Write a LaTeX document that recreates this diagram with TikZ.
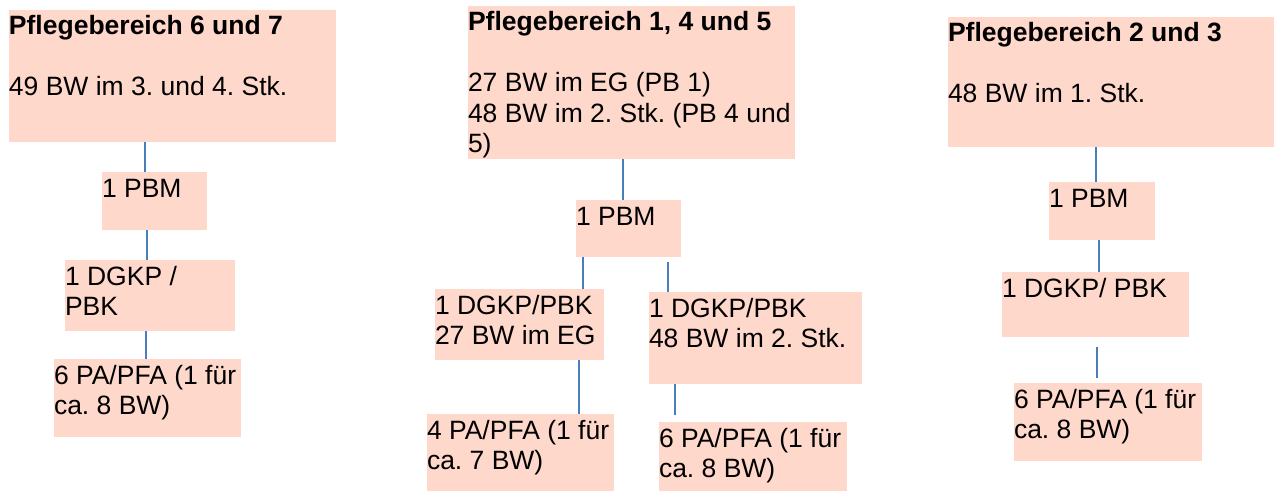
\documentclass[tikz,border=0pt]{standalone}
\usepackage{fontspec}
\setmainfont{Liberation Sans}
\frenchspacing
\definecolor{boxfill}{RGB}{255,216,204}
\definecolor{connblue}{RGB}{74,126,187}
\begin{document}
\begin{tikzpicture}[x=1pt,y=-1pt,
  box/.style={fill=boxfill, draw=none, inner sep=0pt, outer sep=0pt, anchor=north west},
  txt/.style={anchor=north west, inner sep=0pt, outer sep=0pt, align=left,
    font=\fontsize{26.5}{30.5}\selectfont\frenchspacing},
  conn/.style={draw=connblue, line width=1.1pt}]
\useasboundingbox (0,0) rectangle (1274,492);

% column A
\node[box, minimum width=327pt, minimum height=132pt] (A1) at (9,10) {};
\node[box, minimum width=105pt, minimum height=58pt]  (A2) at (102,172) {};
\node[box, minimum width=170pt, minimum height=71pt]  (A3) at (65,260) {};
\node[box, minimum width=187pt, minimum height=78pt]  (A4) at (54,359) {};
% column B
\node[box, minimum width=327pt, minimum height=153pt] (B1) at (468,6) {};
\node[box, minimum width=105pt, minimum height=57pt]  (B2) at (576,200) {};
\node[box, minimum width=169pt, minimum height=71pt]  (B3) at (435,289) {};
\node[box, minimum width=213pt, minimum height=92pt]  (B4) at (649,292) {};
\node[box, minimum width=187pt, minimum height=77pt]  (B5) at (427,414) {};
\node[box, minimum width=188pt, minimum height=69pt]  (B6) at (659,422) {};
% column C
\node[box, minimum width=326pt, minimum height=130pt] (C1) at (948,17) {};
\node[box, minimum width=106pt, minimum height=58pt]  (C2) at (1049,182) {};
\node[box, minimum width=187pt, minimum height=65pt]  (C3) at (1002,272) {};
\node[box, minimum width=188pt, minimum height=78pt]  (C4) at (1014,383) {};

% texts
\node[txt] (tA1) at ([yshift=-3.65pt]A1.north west) {\strut\textbf{Pflegebereich 6 und 7}\\[30.5pt]49 BW im 3. und 4. Stk.};
\node[txt] (tA2) at ([yshift=-3.65pt]A2.north west) {\strut 1 PBM};
\node[txt] (tA3) at ([yshift=-3.65pt]A3.north west) {\strut 1 DGKP /\\PBK};
\node[txt] (tA4) at ([yshift=-3.65pt]A4.north west) {\strut 6 PA/PFA (1 für\\ca. 8 BW)};

\node[txt] (tB1) at ([yshift=-3.65pt]B1.north west) {\strut\textbf{Pflegebereich 1, 4 und 5}\\[30.5pt]27 BW im EG (PB 1)\\48 BW im 2. Stk. (PB 4 und\\5)};
\node[txt] (tB2) at ([yshift=-3.65pt]B2.north west) {\strut 1 PBM};
\node[txt] (tB3) at ([yshift=-3.65pt]B3.north west) {\strut 1 DGKP/PBK\\27 BW im EG};
\node[txt] (tB4) at ([yshift=-3.65pt]B4.north west) {\strut 1 DGKP/PBK\\48 BW im 2. Stk.};
\node[txt] (tB5) at ([yshift=-3.65pt]B5.north west) {\strut 4 PA/PFA (1 für\\ca. 7 BW)};
\node[txt] (tB6) at ([yshift=-3.65pt]B6.north west) {\strut 6 PA/PFA (1 für\\ca. 8 BW)};

\node[txt] (tC1) at ([yshift=-3.65pt]C1.north west) {\strut\textbf{Pflegebereich 2 und 3}\\[30.5pt]48 BW im 1. Stk.};
\node[txt] (tC2) at ([yshift=-3.65pt]C2.north west) {\strut 1 PBM};
\node[txt] (tC3) at ([yshift=-3.65pt]C3.north west) {\strut 1 DGKP/ PBK};
\node[txt] (tC4) at ([yshift=-3.65pt]C4.north west) {\strut 6 PA/PFA (1 für\\ca. 8 BW)};

% connectors
\draw[conn] (A1.south -| 145,0) -- (A2.north -| 145,0);
\draw[conn] (A2.south -| 147,0) -- (A3.north -| 147,0);
\draw[conn] (A3.south -| 146,0) -- (A4.north -| 146,0);

\draw[conn] (B1.south -| 623,0) -- (B2.north -| 623,0);
\draw[conn] (B2.south -| 583,0) -- (B3.north -| 583,0);
\draw[conn, shorten <=5pt] (B2.south -| 668,0) -- (B4.north -| 668,0);
\draw[conn] (B3.south -| 579,0) -- (B5.north -| 579,0);
\draw[conn, shorten >=7pt] (B4.south -| 675,0) -- (B6.north -| 675,0);

\draw[conn] (C1.south -| 1096,0) -- (C2.north -| 1096,0);
\draw[conn] (C2.south -| 1099,0) -- (C3.north -| 1099,0);
\draw[conn, shorten <=10pt, shorten >=5pt] (C3.south -| 1097,0) -- (C4.north -| 1097,0);
\end{tikzpicture}
\end{document}
